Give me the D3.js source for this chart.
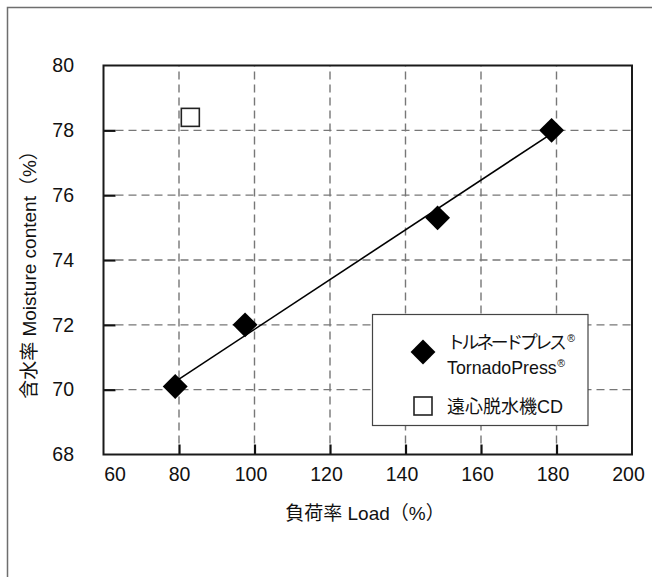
<!DOCTYPE html>
<html>
<head>
<meta charset="utf-8">
<script src="https://cdn.jsdelivr.net/npm/d3@7"></script>
<style>
  html, body { margin: 0; padding: 0; background: #fff; }
  svg { display: block; }
  text { font-family: "Liberation Sans", Arial, "Noto Sans CJK JP", sans-serif; fill: #111; }
</style>
</head>
<body>
<svg id="chart" width="652" height="577"></svg>
<script>
// Load (%) vs moisture content (%)
const tornadoLoad = [79, 97.5, 148.5, 178.7];
const tornadoMoisture = [70.1, 72.0, 75.3, 78.0];
const centrifugeLoad = [83];
const centrifugeMoisture = [78.4];
// least-squares fit through the TornadoPress points, drawn between its end loads
const fitLoad = [79, 178.7];
const fitMoisture = [70.25, 77.9];

const xTicks = [60, 80, 100, 120, 140, 160, 180, 200];
const yTicks = [68, 70, 72, 74, 76, 78, 80];
const xTitle = "負荷率 Load（%）";
const yTitle = "含水率 Moisture content（%）";
const legendNames = [["トルネードプレス", "TornadoPress"], ["遠心脱水機CD"]];

const svg = d3.select("#chart");
const plotL = 103.5, plotR = 632, plotT = 65.5, plotB = 454.5;

const x = d3.scaleLinear().domain([60, 200]).range([plotL, plotR]);
const y = d3.scaleLinear().domain([68, 80]).range([plotB, plotT]);

// outer frame
svg.append("rect")
  .attr("x", 7.5).attr("y", 7.5).attr("width", 700).attr("height", 700)
  .attr("fill", "none").attr("stroke", "#6e6e6e").attr("stroke-width", 1.5);

// grid
const grid = svg.append("g").attr("stroke", "#777").attr("stroke-width", 1.4)
  .attr("stroke-dasharray", "8,5");
grid.selectAll("line.v").data(xTicks.slice(1, -1)).join("line")
  .attr("x1", d => x(d)).attr("x2", d => x(d))
  .attr("y1", plotB - 11).attr("y2", plotT);
grid.selectAll("line.h").data(yTicks.slice(1, -1)).join("line")
  .attr("x1", plotL + 12).attr("x2", plotR)
  .attr("y1", d => y(d)).attr("y2", d => y(d));

// axes with inward ticks
const xAxis = svg.append("g").attr("transform", `translate(0,${plotB})`)
  .call(d3.axisBottom(x).tickValues(xTicks).tickSize(-10).tickPadding(13));
const yAxis = svg.append("g").attr("transform", `translate(${plotL},0)`)
  .call(d3.axisLeft(y).tickValues(yTicks).tickSize(-12).tickPadding(29.5));
[xAxis, yAxis].forEach(a => {
  a.select(".domain").remove();
  a.selectAll("line").attr("stroke", "#111").attr("stroke-width", 2.2);
  a.selectAll("text").attr("font-size", 19.5)
    .style("font-family", '"Liberation Sans", Arial, sans-serif').attr("fill", "#111");
});
xAxis.selectAll(".tick").filter(d => d === 60 || d === 200).select("line").remove();
yAxis.selectAll(".tick").filter(d => d === 68 || d === 80).select("line").remove();
xAxis.selectAll(".tick text").attr("dx", d => d === 60 ? 11 : (d >= 100 ? -4 : 0));

// plot border
svg.append("rect")
  .attr("x", plotL).attr("y", plotT).attr("width", plotR - plotL).attr("height", plotB - plotT)
  .attr("fill", "none").attr("stroke", "#1a1a1a").attr("stroke-width", 2);

// fit line
svg.append("line")
  .attr("x1", x(fitLoad[0])).attr("y1", y(fitMoisture[0]))
  .attr("x2", x(fitLoad[1])).attr("y2", y(fitMoisture[1]))
  .attr("stroke", "#000").attr("stroke-width", 1.6);

const diamond = d3.symbol().type(d3.symbolSquare).size(310);

// TornadoPress points
svg.append("g").selectAll("path")
  .data(tornadoLoad.map((v, i) => [v, tornadoMoisture[i]]))
  .join("path")
  .attr("d", diamond)
  .attr("transform", d => `translate(${x(d[0])},${y(d[1])}) rotate(45)`)
  .attr("fill", "#000");

// centrifuge point
svg.append("g").selectAll("rect")
  .data(centrifugeLoad.map((v, i) => [v, centrifugeMoisture[i]]))
  .join("rect")
  .attr("x", d => x(d[0]) - 9).attr("y", d => y(d[1]) - 9)
  .attr("width", 18).attr("height", 18)
  .attr("fill", "#fff").attr("stroke", "#222").attr("stroke-width", 1.6);

// legend
const lg = svg.append("g");
lg.append("rect")
  .attr("x", 372.5).attr("y", 314.5).attr("width", 215.5).attr("height", 111)
  .attr("fill", "#fff").attr("stroke", "#444").attr("stroke-width", 1.2);
lg.append("path").attr("d", diamond)
  .attr("transform", "translate(423,352) rotate(45)").attr("fill", "#000");
lg.append("rect").attr("x", 414).attr("y", 397).attr("width", 18).attr("height", 18)
  .attr("fill", "#fff").attr("stroke", "#222").attr("stroke-width", 1.6);

function regLabel(text, tx, ty, narrow) {
  const t = lg.append("text").attr("x", tx).attr("y", ty).attr("font-size", 17.8);
  const main = t.append("tspan").text(text);
  if (narrow) main.attr("letter-spacing", -3.2);
  t.append("tspan").attr("font-size", 10.5).attr("dy", -7).attr("dx", narrow ? 3.5 : 0.5).text("®");
}
regLabel(legendNames[0][0], 447, 349, true);
regLabel(legendNames[0][1], 447, 374, false);
lg.append("text").attr("x", 447).attr("y", 413).attr("font-size", 18).text(legendNames[1][0]);

// axis titles
svg.append("text").attr("x", 365).attr("y", 520).attr("text-anchor", "middle")
  .attr("font-size", 19).text(xTitle);
svg.append("text").attr("transform", "translate(36,270) rotate(-90)")
  .attr("text-anchor", "middle").attr("font-size", 19).text(yTitle);
</script>
</body>
</html>
